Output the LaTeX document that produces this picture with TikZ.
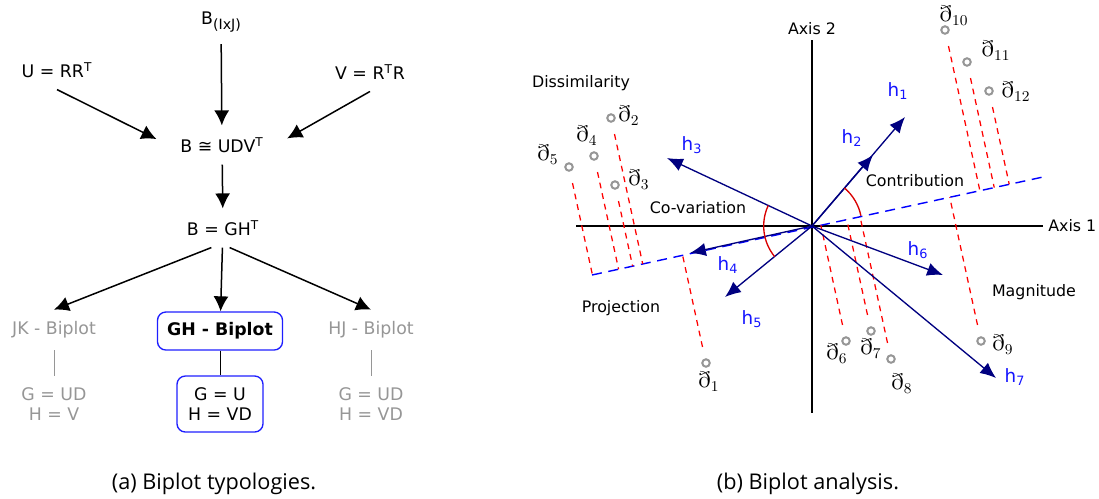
\documentclass[tikz,border=0pt]{standalone}
\usepackage{amsmath}
\usepackage{amssymb}
\usepackage{fontspec}
\setmainfont{DejaVu Sans}
\newfontfamily\capfont{Open Sans}
\usepackage{tikz}
\usetikzlibrary{positioning,arrows.meta,calc}

\definecolor{vecnavy}{RGB}{0,0,128}
\definecolor{hblue}{RGB}{20,20,255}
\definecolor{ptgray}{RGB}{150,150,150}
\definecolor{boxblue}{RGB}{30,30,255}

\begin{document}
\begin{tikzpicture}[x=0.6pt,y=-0.6pt,
  term/.style={inner sep=7pt,font=\fontsize{10.4}{12}\selectfont,align=center},
  faded/.style={term,text=ptgray},
  chosen/.style={term,draw=boxblue,line width=0.8pt,rounded corners=5pt,inner sep=3pt},
  flow/.style={-{Latex[length=9pt,width=9pt]},line width=0.9pt},
  axis/.style={line width=0.9pt},
  vec/.style={-{Latex[length=9.5pt,width=8pt]},vecnavy,line width=0.8pt},
  hlab/.style={text=hblue,font=\fontsize{11}{12}\selectfont,inner sep=0pt},
  tag/.style={font=\fontsize{9.5}{11}\selectfont,inner sep=1pt},
  obs/.style={circle,draw=ptgray,line width=1.2pt,inner sep=0pt,minimum size=4.5pt},
  dlab/.style={font=\fontsize{13.5}{16}\selectfont,inner sep=0pt},
  proj/.style={red,dash pattern=on 3.5pt off 3pt,line width=0.75pt,shorten <=7pt},
  pline/.style={blue,dash pattern=on 6pt off 4pt,line width=0.85pt},
  angmark/.style={red!85!black,line width=0.8pt},
  caption/.style={font=\capfont\fontsize{13}{15}\selectfont},
]
\useasboundingbox (0,0) rectangle (1099,498);

% (a) Biplot typologies
\node[term] (bij) at (221,22) {B\raisebox{-0.5ex}{\fontsize{8.5}{9}\selectfont(IxJ)}};
\node[term] (urr) at (57,70) {U = RR\textsuperscript{T}};
\node[term] (vrr) at (370,72) {V = R\textsuperscript{T}R};
\node[term] (svd) at (222,145) {B ≅ UDV\textsuperscript{T}};
\node[term] (gh) at (223,228) {B = GH\textsuperscript{T}};

\node[faded] (jk) at (54,330) {JK - Biplot};
\node[chosen,minimum width=75pt,minimum height=22.8pt] (ghb) at (220,331) {\bfseries GH - Biplot};
\node[faded] (hj) at (371,330) {HJ - Biplot};

\node[faded] (jkf) at (54,404) {G = UD\\H = V};
\node[chosen,minimum width=51.6pt,minimum height=33.6pt] (ghf) at (220,404) {G = U\\H = VD};
\node[faded] (hjf) at (371,404) {G = UD\\H = VD};

\draw[flow] (bij) -- (svd);
\draw[flow,shorten >=8pt] (urr.south) -- (svd.west);
\draw[flow,shorten >=8pt] (vrr.south) -- (svd.east);
\draw[flow] (svd) -- (gh);
\draw[flow] ([xshift=-7pt]gh.south) -- (jk.north);
\draw[flow] (gh) -- (ghb);
\draw[flow] ([xshift=4pt]gh.south) -- (hj.north);
\draw (ghb) -- (ghf);
\draw[ptgray] (jk) -- (jkf);
\draw[ptgray] (hj) -- (hjf);

\node[caption] (capa) at (214,484) {(a) Biplot typologies.};

% (b) Biplot analysis
\coordinate (O) at (812,226);
\coordinate (ax1w) at (576,226);
\coordinate (ax1e) at (1043,226);
\coordinate (ax2n) at (812,40);
\coordinate (ax2s) at (812,413);
\draw[axis] (ax1w) -- (ax1e);
\draw[axis] (ax2n) -- (ax2s);
\node[tag,right=2pt of ax1e] (a1) {Axis 1};
\node[tag,above=2pt of ax2n] (a2) {Axis 2};

% projection axis
\coordinate (pw) at (592,275);
\coordinate (pe) at (1043,177);
\draw[pline] (pw) -- (pe);

% observations
\node[obs] (d1) at (706,363) {};
\node[obs] (d2) at (611,118) {};
\node[obs] (d3) at (615,185) {};
\node[obs] (d4) at (594,156) {};
\node[obs] (d5) at (569,167) {};
\node[obs] (d6) at (846,341) {};
\node[obs] (d7) at (871,331) {};
\node[obs] (d8) at (891,359) {};
\node[obs] (d9) at (981,341) {};
\node[obs] (d10) at (945,30) {};
\node[obs] (d11) at (967,62) {};
\node[obs] (d12) at (989,91) {};

\node[dlab] (d1l) at (709,382) {$\eth_1$};
\node[dlab] (d2l) at (629,116) {$\eth_2$};
\node[dlab] (d3l) at (639,180) {$\eth_3$};
\node[dlab] (d4l) at (587,136) {$\eth_4$};
\node[dlab] (d5l) at (548,155) {$\eth_5$};
\node[dlab] (d6l) at (837,354) {$\eth_6$};
\node[dlab] (d7l) at (871,349) {$\eth_7$};
\node[dlab] (d8l) at (902,384) {$\eth_8$};
\node[dlab] (d9l) at (1003,345) {$\eth_9$};
\node[dlab] (d10l) at (954,16) {$\eth_{10}$};
\node[dlab] (d11l) at (996,51) {$\eth_{11}$};
\node[dlab] (d12l) at (1016,92) {$\eth_{12}$};

% perpendicular drops
\draw[proj] (d1) -- ($(pw)!(d1)!(pe)$);
\draw[proj] (d2) -- ($(pw)!(d2)!(pe)$);
\draw[proj] (d3) -- ($(pw)!(d3)!(pe)$);
\draw[proj] (d4) -- ($(pw)!(d4)!(pe)$);
\draw[proj] (d5) -- ($(pw)!(d5)!(pe)$);
\draw[proj] (d6) -- ($(pw)!(d6)!(pe)$);
\draw[proj] (d7) -- ($(pw)!(d7)!(pe)$);
\draw[proj] (d8) -- ($(pw)!(d8)!(pe)$);
\draw[proj] (d9) -- ($(pw)!(d9)!(pe)$);
\draw[proj] (d10) -- ($(pw)!(d10)!(pe)$);
\draw[proj] (d11) -- ($(pw)!(d11)!(pe)$);
\draw[proj] (d12) -- ($(pw)!(d12)!(pe)$);

% variables
\coordinate (t1) at (905,117);
\coordinate (t2) at (873,155);
\coordinate (t3) at (667,158);
\coordinate (t4) at (690,253);
\coordinate (t5) at (725,297);
\coordinate (t6) at (943,275);
\coordinate (t7) at (996,378);
\draw[vec] (O) -- (t1);
\draw[vec] (O) -- (t2);
\draw[vec] (O) -- (t3);
\draw[vec] (O) -- (t4);
\draw[vec] (O) -- (t5);
\draw[vec] (O) -- (t6);
\draw[vec] (O) -- (t7);

\node[hlab] (h1) at (898,91) {h\textsubscript{1}};
\node[hlab] (h2) at (852,138) {h\textsubscript{2}};
\node[hlab] (h3) at (692,145) {h\textsubscript{3}};
\node[hlab] (h4) at (728,265) {h\textsubscript{4}};
\node[hlab] (h5) at (752,319) {h\textsubscript{5}};
\node[hlab] (h6) at (918,250) {h\textsubscript{6}};
\node[hlab] (h7) at (1015,377) {h\textsubscript{7}};

% angles
\draw[angmark] ($(O)!30pt!(t1)$) arc[start angle=49.5,end angle=11.9,radius=30pt];
\draw[angmark] ($(O)!29pt!(t3)$) arc[start angle=154.9,end angle=219.2,radius=29pt];

\node[tag] (dis) at (581,83) {Dissimilarity};
\node[tag] (cov) at (698,208) {Co-variation};
\node[tag] (con) at (915,181) {Contribution};
\node[tag] (prj) at (621,308) {Projection};
\node[tag] (mag) at (1034,292) {Magnitude};

\node[caption] (capb) at (808,484) {(b) Biplot analysis.};

\end{tikzpicture}
\end{document}
